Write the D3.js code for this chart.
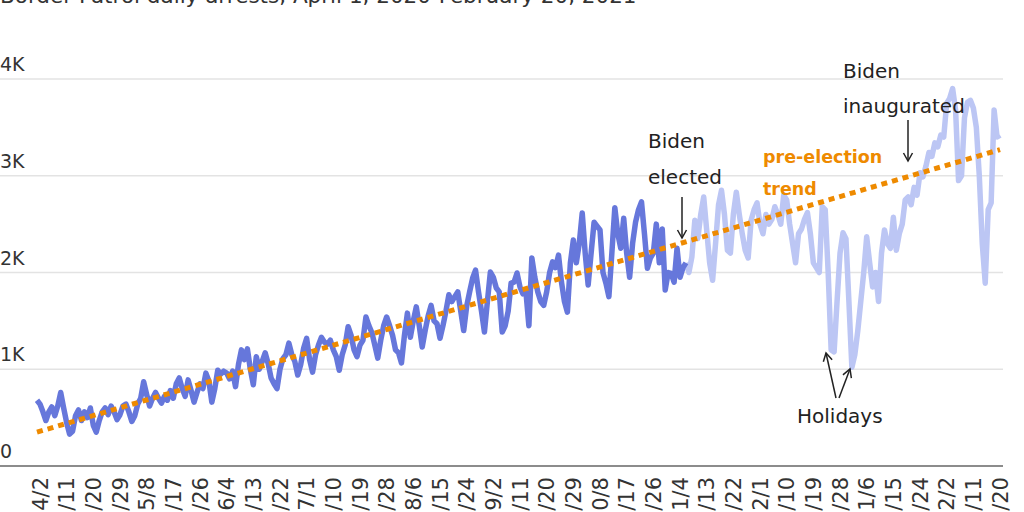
<!DOCTYPE html>
<html><head><meta charset="utf-8">
<script src="https://cdn.jsdelivr.net/npm/d3@7"></script>
<style>body{margin:0;background:#fff;} svg{display:block;font-family:"DejaVu Sans",Verdana,sans-serif;}</style>
</head><body><svg id="c" width="1024" height="512"></svg>
<script>
const titleText = "Border Patrol daily arrests, April 1, 2020-February 20, 2021";
const startDate = new Date(2020, 3, 1);
// daily arrests, April 1 - Nov 7, 2020 (pre-election period, dark line)
const preElection = [
  680,640,560,470,560,610,520,620,760,600,
  450,330,360,520,580,470,560,500,600,420,
  350,470,560,600,530,620,560,480,530,620,
  640,560,460,520,640,700,870,740,620,700,
  760,700,650,720,680,780,700,850,910,800,
  720,890,780,660,760,850,800,960,880,660,
  800,990,950,980,960,900,980,820,1050,1200,
  1100,1210,1000,840,1130,1000,1080,1170,1060,910,
  850,800,1000,1110,1150,1270,1150,1080,940,1050,
  1220,1320,1100,970,1150,1250,1330,1280,1260,1300,
  1200,1130,990,1150,1250,1440,1350,1200,1130,1250,
  1300,1540,1450,1380,1250,1115,1300,1450,1540,1450,
  1350,1200,1170,1065,1350,1580,1330,1500,1645,1450,
  1230,1400,1550,1660,1500,1470,1320,1450,1600,1770,
  1700,1750,1800,1600,1400,1650,1800,1940,2025,1800,
  1600,1385,1700,2005,1950,1840,1800,1385,1450,1600,
  1890,1900,1995,1850,1780,1800,1450,2150,1950,1800,
  1700,1660,1800,2000,2110,2050,2180,1900,1700,1590,
  2100,2335,2100,2300,2615,2200,1870,2200,2520,2480,
  2440,2000,1890,1750,2200,2670,2400,2250,2560,2200,
  1950,2300,2520,2650,2730,2400,2045,2150,2200,2500,
  2100,2450,1820,2000,1990,1900,2250,1950,2050,2100
];
// daily arrests after the election (light line)
const postElection = [
  2000,2160,2540,2350,2600,2780,2440,2100,1920,2300,
  2700,2850,2600,2230,2200,2600,2830,2600,2400,2230,
  2150,2540,2650,2720,2500,2400,2600,2500,2550,2680,
  2600,2500,2800,2750,2500,2300,2100,2400,2450,2550,
  2620,2400,2100,2050,2000,2680,2650,2000,1200,1180,
  1700,2200,2410,2350,1700,1020,1150,1400,1700,2000,
  2370,2100,1850,2000,1700,2200,2440,2300,2250,2570,
  2230,2400,2500,2750,2780,2700,2880,2800,3030,2990,
  3100,3240,3200,3340,3300,3420,3400,3750,3800,3900,
  3680,2950,3000,3600,3760,3780,3700,3500,3000,2300,
  1890,2650,2720,3680,3400,3420
];
const trendValues = [350, 3270];
const yTicks = [0, 1000, 2000, 3000, 4000];
const yTickLabels = ["0", "1K", "2K", "3K", "4K"];
const xTickLabels = ["4/2","4/11","4/20","4/29","5/8","5/17","5/26","6/4","6/13","6/22","7/1","7/10","7/19","7/28","8/6","8/15","8/24","9/2","9/11","9/20","9/29","10/8","10/17","10/26","11/4","11/13","11/22","12/1","12/10","12/19","12/28","1/6","1/15","1/24","2/2","2/11","2/20"];

const svg = d3.select("#c");
const dayOf = i => d3.timeDay.offset(startDate, i);
const allValues = preElection.concat(postElection);
const series = allValues.map((v, i) => ({date: dayOf(i), value: v}));
const preSeries = series.slice(0, preElection.length);
const postSeries = series.slice(preElection.length - 1);

const x = d3.scaleTime().domain([startDate, dayOf(allValues.length)]).range([37, 1003]);
const y = d3.scaleLinear().domain([0, 4000]).range([466, 79]);

const parseTick = s => { const [m, d] = s.split("/").map(Number); return new Date(m >= 4 ? 2020 : 2021, m - 1, d); };

// title (partly cut off at top)
svg.append("text").attr("x", 0).attr("y", 3).attr("font-size", 21.5).attr("fill", "#333").text(titleText);

// gridlines
svg.append("g").selectAll("line").data(yTicks.filter(t => t > 0)).join("line")
  .attr("x1", 0).attr("x2", 1003).attr("y1", d => y(d)).attr("y2", d => y(d))
  .attr("stroke", "#e3e3e3").attr("stroke-width", 1.5);
svg.append("g").selectAll("text").data(yTicks).join("text")
  .attr("x", 0).attr("y", d => y(d) - 8).attr("font-size", 19).attr("fill", "#333")
  .text((d, i) => yTickLabels[i]);

// baseline
svg.append("line").attr("x1", 0).attr("x2", 1003).attr("y1", y(0)).attr("y2", y(0))
  .attr("stroke", "#666").attr("stroke-width", 1.6);

// x tick labels
svg.append("g").selectAll("text").data(xTickLabels).join("text")
  .attr("transform", d => `translate(${x(parseTick(d))},477) rotate(-90)`)
  .attr("text-anchor", "end").attr("dy", "0.36em").attr("font-size", 21).attr("fill", "#333")
  .text(d => d);

const line = d3.line().x(d => x(d.date)).y(d => y(d.value));
svg.append("path").datum(postSeries).attr("d", line).attr("fill", "none")
  .attr("stroke", "#bcc6f4").attr("stroke-width", 5.5).attr("stroke-linejoin", "round");
svg.append("path").datum(preSeries).attr("d", line).attr("fill", "none")
  .attr("stroke", "#6677db").attr("stroke-width", 5.5).attr("stroke-linejoin", "round");

// trend line
const trend = [{date: dayOf(0), value: trendValues[0]}, {date: dayOf(allValues.length - 1), value: trendValues[1]}];
svg.append("path").datum(trend).attr("d", line).attr("fill", "none")
  .attr("stroke", "#ee8a00").attr("stroke-width", 5).attr("stroke-dasharray", "6,5");

// arrows
const defs = svg.append("defs");
defs.append("marker").attr("id", "arr").attr("viewBox", "-10 -6 12 12").attr("refX", 0).attr("refY", 0)
  .attr("markerWidth", 12).attr("markerHeight", 12).attr("markerUnits", "userSpaceOnUse").attr("orient", "auto")
  .append("path").attr("d", "M-8,-4.5L0,0L-8,4.5").attr("fill", "none").attr("stroke", "#222").attr("stroke-width", 1.5);

const arrows = [[682, 197, 682, 238], [908, 120, 908, 161], [836, 398, 826, 353], [839, 398, 850, 369]];
svg.append("g").selectAll("line").data(arrows).join("line")
  .attr("x1", d => d[0]).attr("y1", d => d[1]).attr("x2", d => d[2]).attr("y2", d => d[3])
  .attr("stroke", "#222").attr("stroke-width", 1.5).attr("marker-end", "url(#arr)");

const ann = svg.append("g").attr("font-size", 20).attr("fill", "#222");
ann.append("text").attr("x", 648).attr("y", 148).text("Biden");
ann.append("text").attr("x", 648).attr("y", 184).text("elected");
ann.append("text").attr("x", 843).attr("y", 78).text("Biden");
ann.append("text").attr("x", 843).attr("y", 113).text("inaugurated");
ann.append("text").attr("x", 797).attr("y", 423).text("Holidays");
const tr = svg.append("g").attr("font-size", 17.5).attr("font-weight", "bold").attr("fill", "#ee8a00");
tr.append("text").attr("x", 763).attr("y", 163).text("pre-election");
tr.append("text").attr("x", 763).attr("y", 195).text("trend");
</script></body></html>
